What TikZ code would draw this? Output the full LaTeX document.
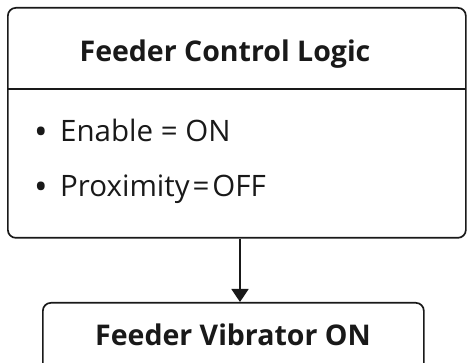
\documentclass[tikz,border=0pt]{standalone}
\usepackage{fontspec}
\setmainfont{Open Sans}
\usetikzlibrary{arrows.meta}
\begin{document}
\begin{tikzpicture}[x=1pt,y=-1pt,
  frame/.style={draw=black!90,line width=1.7pt,rounded corners=8pt},
  txt/.style={inner sep=0pt,font=\fontsize{29.5}{32}\selectfont,text=black!90},
  ttl/.style={inner sep=0pt,text=black!90,font=\fontsize{28.5}{32}\selectfont\bfseries},
  dot/.style={inner sep=0pt,text=black!90,font=\fontsize{36}{36}\selectfont},
  conn/.style={draw=black!90,line width=1.9pt,-{Triangle[width=17pt,length=13pt]}}]
\useasboundingbox (0,0) rectangle (469,363);
\clip (0,0) rectangle (469,363);
\fill[white] (0,0) rectangle (469,363);
% top box
\node[frame,minimum width=458pt,minimum height=230pt,anchor=north west] (logic) at (7,7) {};
\coordinate (divl) at (7,89);
\coordinate (divr) at (465,89);
\draw[draw=black!90,line width=1.7pt] (divl) -- (divr);
\node[ttl,anchor=base] (title) at (225,62) {Feeder Control Logic};
\node[dot,anchor=base] (b1) at (41,145) {•};
\node[txt,anchor=base west] (t1) at (60,142) {Enable = ON};
\node[dot,anchor=base] (b2) at (41,200) {•};
\node[txt,anchor=base west] (t2) at (60,197) {Proximity\hspace{0.1em}=\hspace{0.1em}OFF};
% bottom box
\node[frame,minimum width=381pt,minimum height=70pt,anchor=north west] (vib) at (42,302) {};
\node[ttl,anchor=base] (vibt) at (233,346) {Feeder Vibrator ON};
\coordinate (ax) at (240,0);
\draw[conn] (logic.south -| ax) -- (vib.north -| ax);
\end{tikzpicture}
\end{document}
